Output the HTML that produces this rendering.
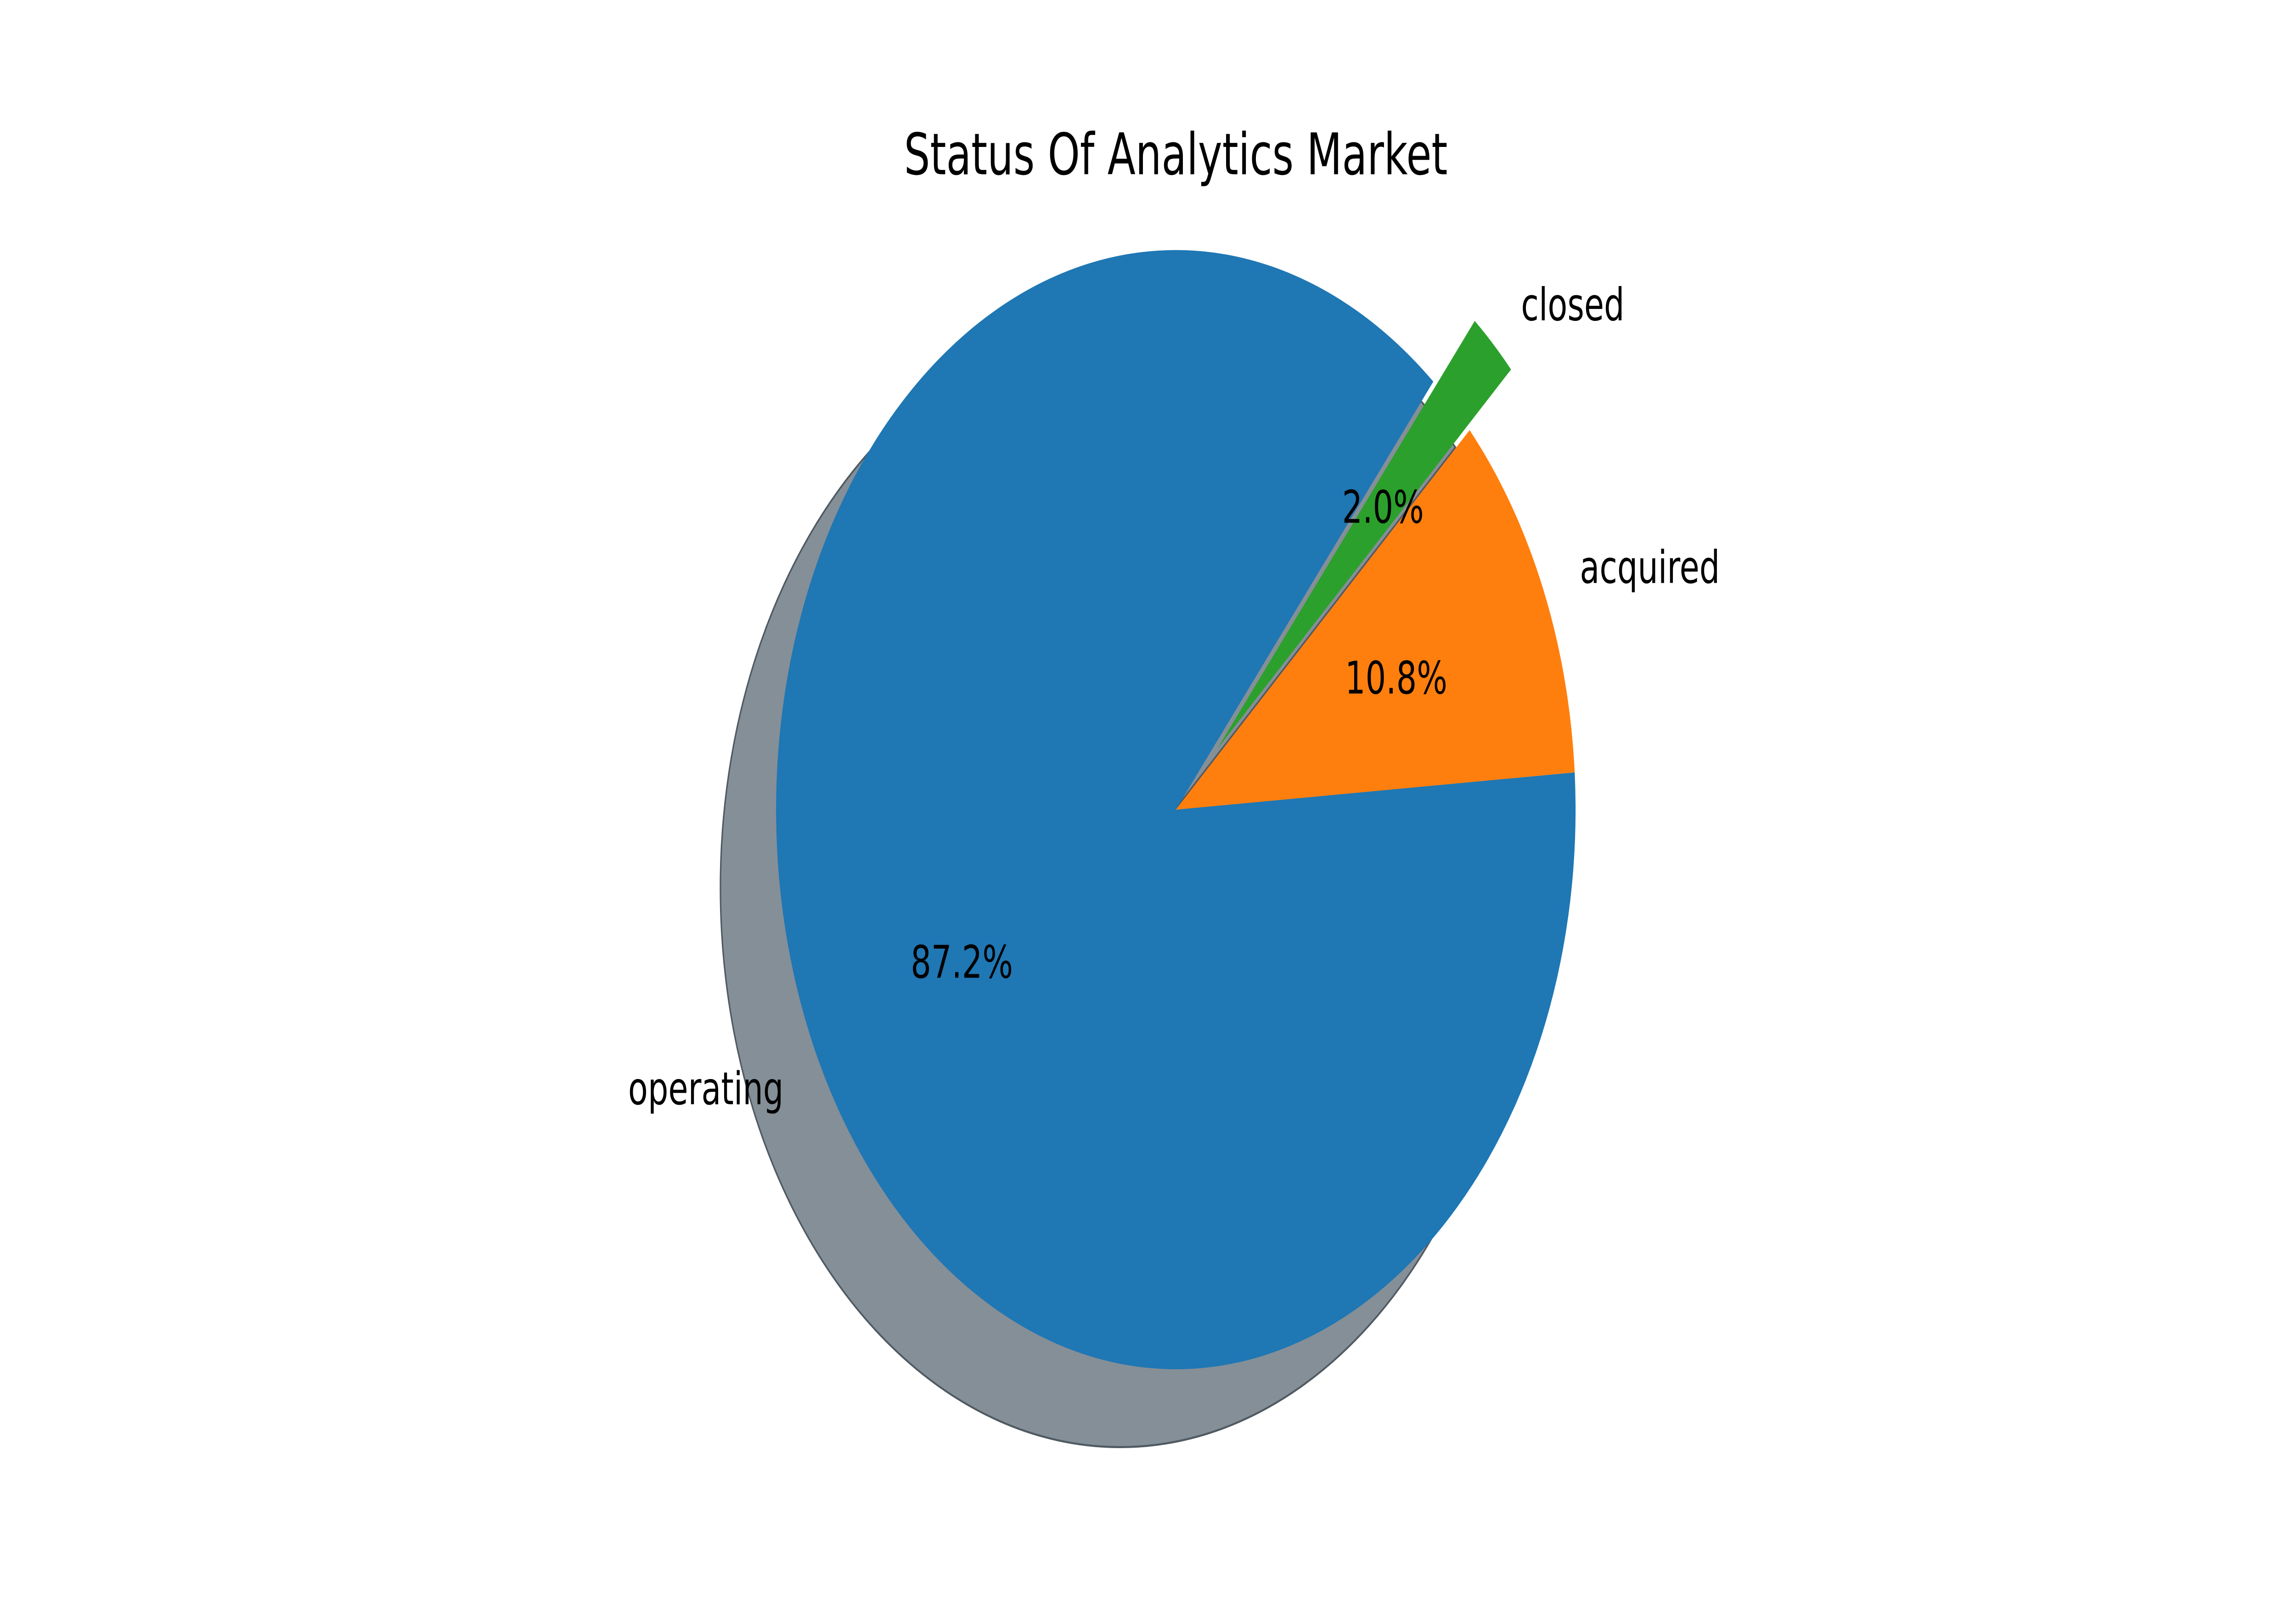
<!DOCTYPE html>
<html><head><meta charset="utf-8"><style>html,body{margin:0;padding:0;background:#fff;width:100%;height:100%;overflow:hidden}svg{display:block;position:fixed;left:0;top:0;width:100vw;height:100vh}</style></head>
<body>
<svg id="chart" viewBox="0 0 1568 784" preserveAspectRatio="none" xmlns="http://www.w3.org/2000/svg" font-family="DejaVu Sans, Liberation Sans, sans-serif">
<rect width="1568" height="784" fill="#fff"/>
<text x="803" y="85" font-size="28" text-anchor="middle" fill="#000">Status Of Analytics Market</text>
<g id="shadows"></g>
<g id="pie"></g>
<g id="labels"></g>
</svg>
<script>
const categories = ["operating", "acquired", "closed"];
const values = [87.2, 10.8, 2.0];
const pctLabels = ["87.2%", "10.8%", "2.0%"];
const explodeVals = [0, 0, 0.15];
const colors = ["#1f77b4", "#ff7f0e", "#2ca02c"];
const startAngle = 49.9;

const cx = 803, cy = 395, R = 273, shX = -38, shY = 38;
const gs = document.getElementById('shadows');
const g = document.getElementById('pie');
const gl = document.getElementById('labels');
const NS = 'http://www.w3.org/2000/svg';
const total = values.reduce((a, b) => a + b, 0);
function pt(ox, oy, r, deg) { const a = deg * Math.PI / 180; return [ox + r * Math.cos(a), oy - r * Math.sin(a)]; }
function wedgePath(ox, oy, a0, a1) {
  const p0 = pt(ox, oy, R, a0), p1 = pt(ox, oy, R, a1);
  const large = (a1 - a0) > 180 ? 1 : 0;
  return `M${ox},${oy} L${p0[0]},${p0[1]} A${R},${R} 0 ${large} 0 ${p1[0]},${p1[1]} Z`;
}
let a = startAngle;
values.forEach((v, i) => {
  const span = v / total * 360, a1 = a + span, mid = (a + a1) / 2;
  const [ox, oy] = pt(cx, cy, explodeVals[i] * R, mid);
  const sh = document.createElementNS(NS, 'path');
  sh.setAttribute('d', wedgePath(ox + shX, oy + shY, a, a1));
  sh.setAttribute('fill', '#858f97');
  sh.setAttribute('stroke', '#4f5a62');
  sh.setAttribute('stroke-width', '1');
  
  
  gs.appendChild(sh);
  const w = document.createElementNS(NS, 'path');
  w.setAttribute('d', wedgePath(ox, oy, a, a1));
  w.setAttribute('fill', colors[i]);
  
  
  g.appendChild(w);
  const lp = pt(cx, cy, (1.1 + explodeVals[i]) * R, mid);
  const t = document.createElementNS(NS, 'text');
  t.setAttribute('x', lp[0]); t.setAttribute('y', lp[1] + 8);
  t.setAttribute('font-size', '22');
  t.setAttribute('text-anchor', Math.cos(mid * Math.PI / 180) < 0 ? 'end' : 'start');
  t.textContent = categories[i];
  
  
  gl.appendChild(t);
  const pp = pt(cx, cy, (0.6 + explodeVals[i]) * R, mid);
  const p = document.createElementNS(NS, 'text');
  p.setAttribute('x', pp[0]); p.setAttribute('y', pp[1] + 8);
  p.setAttribute('font-size', '22');
  p.setAttribute('text-anchor', 'middle');
  p.textContent = pctLabels[i];
  
  
  gl.appendChild(p);
  a = a1;
});
</script>
</body></html>
